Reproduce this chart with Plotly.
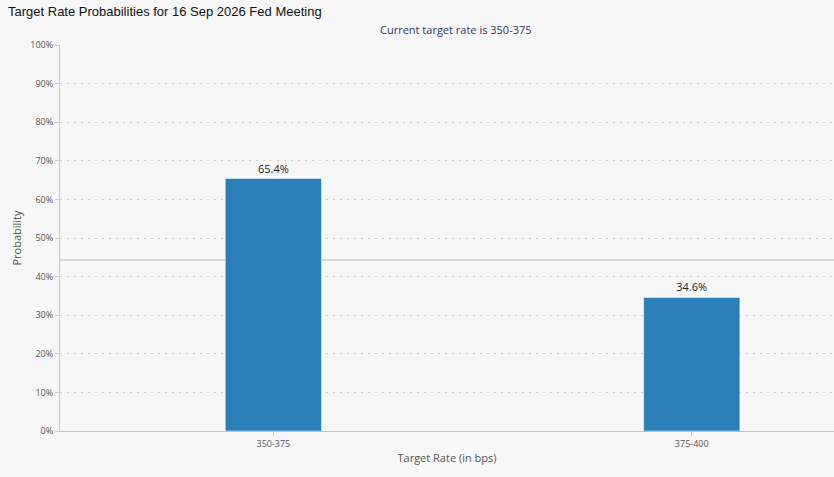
"""Target rate probabilities bar chart (FedWatch style)."""

import plotly.graph_objects as go

# ---- data ----
target_rates = ["350-375", "375-400"]
probabilities = [65.4, 34.6]
bar_labels = ["65.4%", "34.6%"]
crosshair_level = 44.3
y_ticks = [0, 10, 20, 30, 40, 50, 60, 70, 80, 90, 100]
y_tick_labels = [f"{v}%" for v in y_ticks]

BAR_COLOR = "#2a7fb8"
BG = "#f7f7f7"
TICK_FONT = dict(family="Open Sans, DejaVu Sans, sans-serif", size=9, color="#555555")

fig = go.Figure()

fig.add_trace(
    go.Bar(
        x=target_rates,
        y=probabilities,
        width=0.23,
        text=bar_labels,
        textposition="outside",
        textfont=dict(family="Open Sans, DejaVu Sans, sans-serif", size=11, color="#222222"),
        cliponaxis=False,
        marker=dict(color=BAR_COLOR, line=dict(color="#ffffff", width=0.5)),
        hoverinfo="skip",
    )
)

# hover crosshair left on the screenshot (sits behind the bars)
fig.add_shape(
    type="line",
    xref="paper",
    x0=0,
    x1=1,
    yref="y",
    y0=crosshair_level,
    y1=crosshair_level,
    line=dict(color="#cccccc", width=1.5),
    layer="below",
)

fig.add_annotation(
    text="Current target rate is 350-375",
    xref="paper",
    yref="paper",
    x=0.512,
    y=1.0,
    yanchor="bottom",
    yshift=6,
    showarrow=False,
    font=dict(family="Open Sans, DejaVu Sans, sans-serif", size=11, color="#333366"),
)

fig.update_layout(
    title=dict(
        text="Target Rate Probabilities for 16 Sep 2026 Fed Meeting",
        x=0.0096,
        xanchor="left",
        y=0.985,
        yanchor="top",
        font=dict(family="Liberation Sans, Arial, sans-serif", size=13, color="#111111"),
    ),
    width=834,
    height=477,
    margin=dict(l=60, r=0, t=45, b=46),
    paper_bgcolor=BG,
    plot_bgcolor=BG,
    showlegend=False,
    bargap=0.5,
)

fig.update_xaxes(
    range=[-0.51, 1.34],
    showgrid=False,
    showline=True,
    linecolor="#c0c0c0",
    linewidth=1,
    ticks="outside",
    ticklen=4,
    tickcolor="#cccccc",
    tickfont=TICK_FONT,
    title=dict(
        text="Target Rate (in bps)",
        standoff=5,
        font=dict(family="Open Sans, DejaVu Sans, sans-serif", size=11, color="#555555"),
    ),
)

fig.update_yaxes(
    range=[0, 100],
    tickvals=y_ticks,
    ticktext=y_tick_labels,
    showgrid=True,
    gridcolor="#d0d0d0",
    griddash="2px,5px",
    gridwidth=1,
    zeroline=False,
    showline=True,
    linecolor="#c8c8c8",
    linewidth=1,
    ticks="outside",
    ticklen=4,
    tickcolor="#cccccc",
    tickfont=TICK_FONT,
    title=dict(
        text="Probability",
        standoff=6,
        font=dict(family="Open Sans, DejaVu Sans, sans-serif", size=11, color="#555555"),
    ),
)

fig.write_html(
    "out.html",
    config={"displayModeBar": False},
    post_script="document.body.style.margin='0';",
)
